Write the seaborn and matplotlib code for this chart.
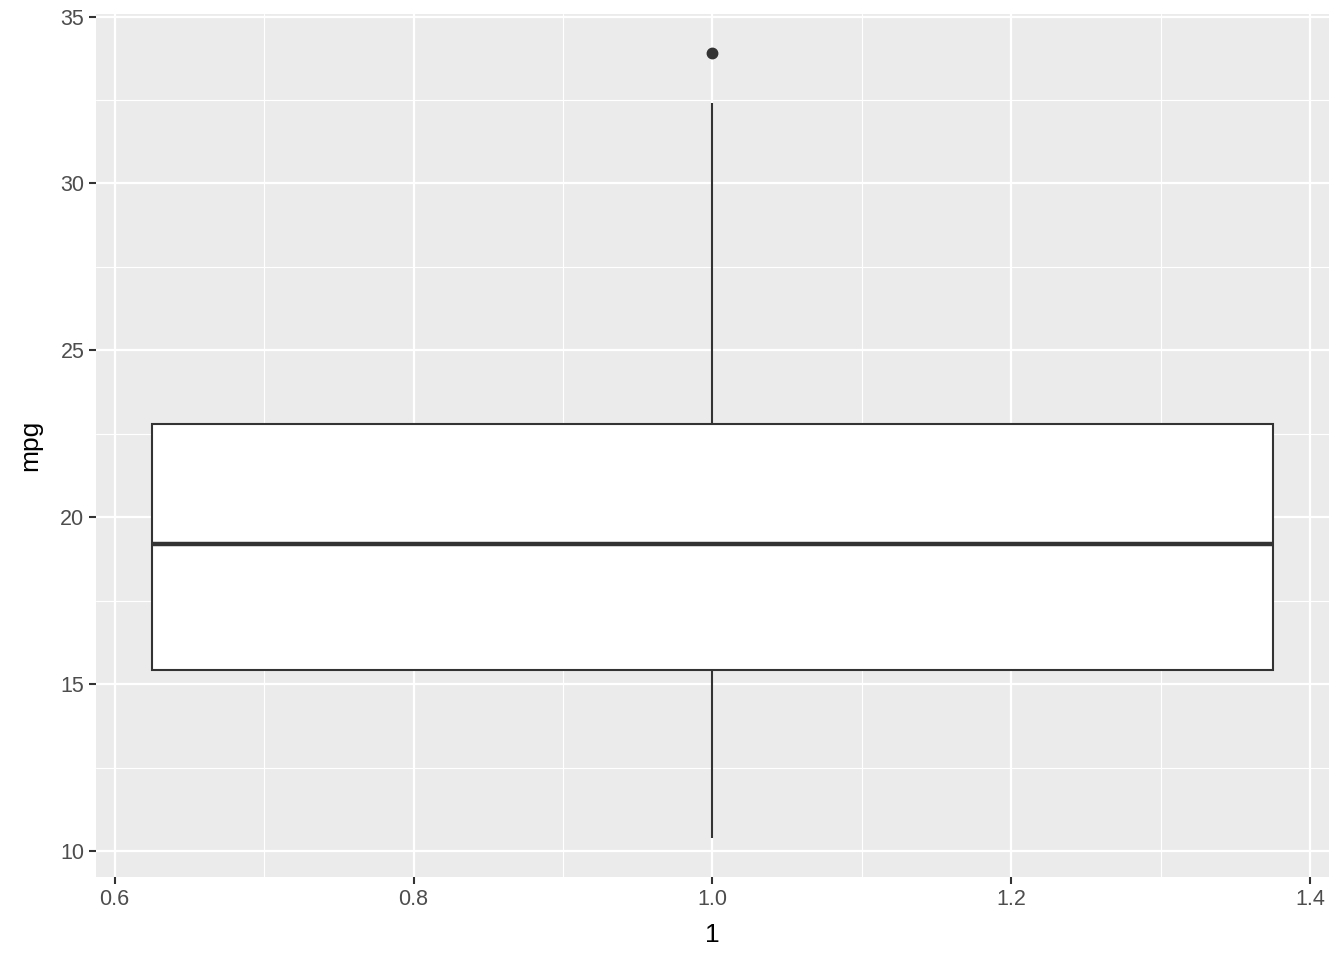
"""Boxplot of mtcars mpg in ggplot2 grey style."""
import matplotlib
matplotlib.use("Agg")
import matplotlib.pyplot as plt
import numpy as np
import seaborn as sns

# mtcars$mpg
mpg = [21.0, 21.0, 22.8, 21.4, 18.7, 18.1, 14.3, 24.4, 22.8, 19.2, 17.8,
       16.4, 17.3, 15.2, 10.4, 10.4, 14.7, 32.4, 30.4, 33.9, 21.5, 15.5,
       15.2, 13.3, 19.2, 27.3, 26.0, 30.4, 15.8, 19.7, 15.0, 21.4]
group = [1.0] * len(mpg)
x_ticks = [0.6, 0.8, 1.0, 1.2, 1.4]
x_minor = [0.7, 0.9, 1.1, 1.3]
y_ticks = [10, 15, 20, 25, 30, 35]
y_minor = [12.5, 17.5, 22.5, 27.5, 32.5]

sns.set_style("white")
plt.rcParams["font.family"] = ["Liberation Sans", "DejaVu Sans"]

fig = plt.figure(figsize=(13.44, 9.6), dpi=100)
ax = fig.add_axes([96 / 1344, 1 - 877 / 960, (1329 - 96) / 1344, (877 - 14) / 960])
ax.set_facecolor("#EBEBEB")

line_col = "#333333"
sns.boxplot(
    x=group, y=mpg, native_scale=True, width=0.75, ax=ax,
    color="white", linecolor=line_col, linewidth=1.5,
    boxprops=dict(facecolor="white", edgecolor=line_col, linewidth=1.5, zorder=3),
    whiskerprops=dict(color=line_col, linewidth=1.5, zorder=3),
    capprops=dict(linewidth=0),
    medianprops=dict(color=line_col, linewidth=3.2, zorder=4),
    flierprops=dict(marker="o", markersize=7.5, markerfacecolor=line_col,
                    markeredgecolor=line_col, zorder=4),
)

x_lo, x_hi = 0.625, 1.375
pad = (x_hi - x_lo) * 0.05
ax.set_xlim(x_lo - pad, x_hi + pad)
y_lo, y_hi = min(mpg), max(mpg)
pad = (y_hi - y_lo) * 0.05
ax.set_ylim(y_lo - pad, y_hi + pad)

ax.set_xticks(x_ticks)
ax.set_xticklabels([f"{v:.1f}" for v in x_ticks])
ax.set_yticks(y_ticks)
ax.set_xticks(x_minor, minor=True)
ax.set_yticks(y_minor, minor=True)

ax.grid(True, which="major", color="white", linewidth=1.6, zorder=0)
ax.grid(True, which="minor", color="white", linewidth=0.8, zorder=0)
ax.set_axisbelow(True)
for s in ax.spines.values():
    s.set_visible(False)

ax.tick_params(axis="both", which="major", length=5.3, width=1.5, color=line_col,
               labelsize=15.5, labelcolor="#4D4D4D", pad=3, bottom=True, left=True)
ax.tick_params(axis="both", which="minor", length=0)

ax.set_xlabel("1", fontsize=19, color="black", labelpad=10)
ax.set_ylabel("mpg", fontsize=19, color="black", labelpad=13)

plt.savefig("out.png", dpi=100)
plt.close()
